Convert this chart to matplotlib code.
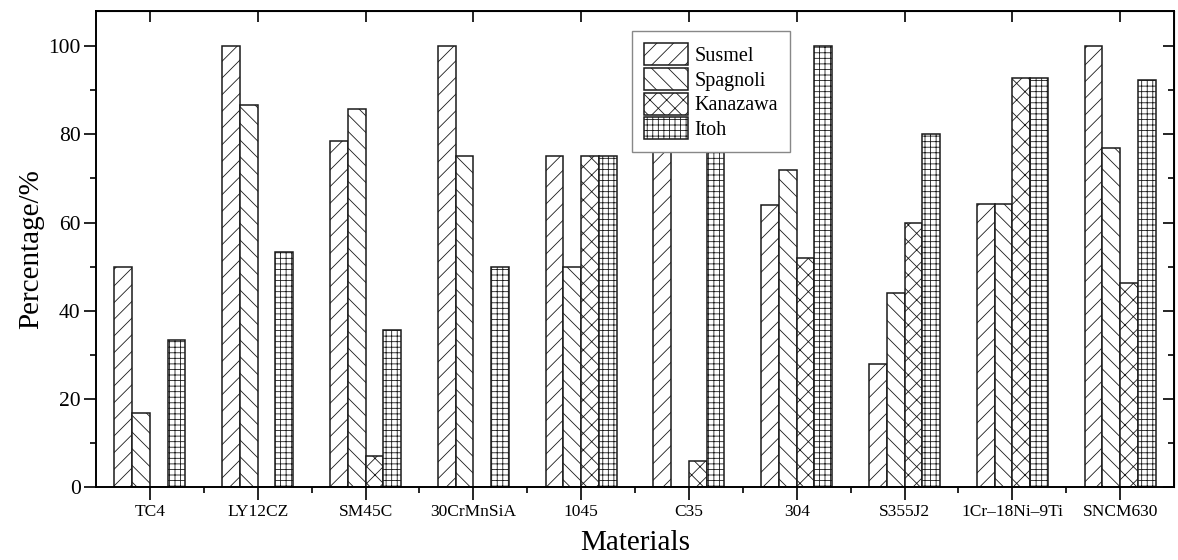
import numpy as np
import matplotlib
matplotlib.use("Agg")
import matplotlib.pyplot as plt

# Share of correctly predicted cases per criterion and material
materials = ["TC4", "LY12CZ", "SM45C", "30CrMnSiA", "1045", "C35",
             "304", "S355J2", "1Cr\u201318Ni\u20139Ti", "SNCM630"]
susmel   = [50.0, 100.0, 78.6, 100.0, 75.0, 94.1, 64.0, 28.0, 64.3, 100.0]
spagnoli = [16.7, 86.7, 85.7, 75.0, 50.0, 0.0, 72.0, 44.0, 64.3, 76.9]
kanazawa = [0.0, 0.0, 7.1, 0.0, 75.0, 5.9, 52.0, 60.0, 92.9, 46.2]
itoh     = [33.3, 53.3, 35.7, 50.0, 75.0, 88.2, 100.0, 80.0, 92.9, 92.3]

series = [("Susmel", susmel, "//"),
          ("Spagnoli", spagnoli, "\\\\"),
          ("Kanazawa", kanazawa, "xx"),
          ("Itoh", itoh, "+++")]

plt.rcParams["font.family"] = ["Liberation Serif", "DejaVu Serif"]
plt.rcParams["hatch.linewidth"] = 0.6
plt.rcParams["hatch.color"] = "#333333"

fig = plt.figure(figsize=(11.78, 5.6), dpi=100)
ax = fig.add_axes([96 / 1178, 1 - 487 / 560, (1174 - 96) / 1178, (487 - 11) / 560])

x = np.arange(1, len(materials) + 1)
w = 0.165
for k, (name, vals, hatch) in enumerate(series):
    ax.bar(x + (k - 1.5) * w, vals, width=w, facecolor="white",
           edgecolor="#1a1a1a", linewidth=1.1, hatch=hatch, label=name)

ax.set_xlim(0.5, len(materials) + 0.5)
ax.set_ylim(0, 108)
ax.set_xticks(x)
ax.set_xticklabels(materials, fontsize=12.5)
ax.set_xticks(x[:-1] + 0.5, minor=True)
ax.set_yticks(np.arange(0, 101, 20))
ax.set_yticks(np.arange(10, 101, 20), minor=True)
ax.tick_params(axis="y", labelsize=15.5, width=1.2, length=9, pad=2, direction="out")
ax.tick_params(axis="y", which="minor", width=1.2, length=4.5, direction="out")
ax.tick_params(axis="x", width=1.2, length=9, direction="out", pad=3)
ax.tick_params(axis="x", which="minor", width=1.2, length=4.5, direction="out")

for s in ax.spines.values():
    s.set_linewidth(1.4)

# mirrored ticks on the top and right edges, pointing inward
top = ax.secondary_xaxis("top")
top.set_xticks(x)
top.set_xticklabels([])
top.tick_params(direction="in", length=8, width=1.2)
right = ax.secondary_yaxis("right")
right.set_yticks(np.arange(0, 101, 20))
right.set_yticks(np.arange(10, 101, 20), minor=True)
right.set_yticklabels([])
right.tick_params(direction="in", length=8, width=1.2)
right.tick_params(which="minor", direction="in", length=4.5, width=1.2)

ax.set_ylabel("Percentage/%", fontsize=21, labelpad=3)
ax.set_xlabel("Materials", fontsize=21, labelpad=7.5)

leg = ax.legend(loc="upper left", bbox_to_anchor=(632 / 1178, 1 - 31 / 560),
                bbox_transform=fig.transFigure, fontsize=14.5, frameon=True,
                framealpha=1, fancybox=False, handlelength=2.2,
                handleheight=1.3, labelspacing=0.1, handletextpad=0.3,
                borderpad=0.6, borderaxespad=0)
leg.get_frame().set_edgecolor("#888888")
leg.get_frame().set_linewidth(1.0)
leg.set_zorder(5)

fig.savefig("out.png", dpi=100)
